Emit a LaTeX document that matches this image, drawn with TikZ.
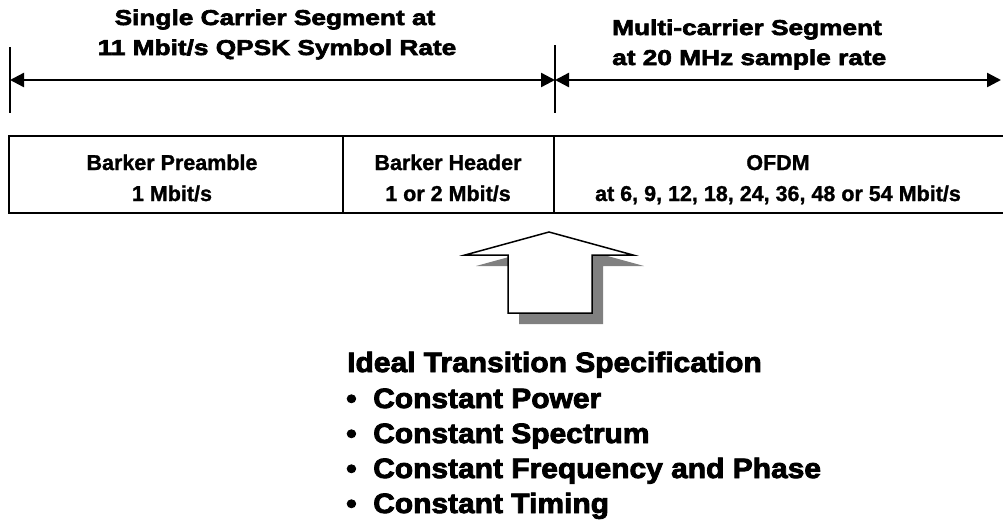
\documentclass[tikz,border=0pt]{standalone}
\usepackage{fontspec}
\setmainfont{Liberation Sans}
\newfontfamily\segfont[FakeStretch=1.22,FakeBold=3]{Liberation Sans}
\newfontfamily\cellfont[FakeBold=1.2]{Liberation Sans}
\newfontfamily\specfont[FakeStretch=1.07,FakeBold=3]{Liberation Sans}
\usetikzlibrary{arrows.meta}

\tikzset{
  seglabel/.style={font=\segfont\bfseries\fontsize{21.5}{25}\selectfont, inner sep=0pt},
  celllabel/.style={font=\cellfont\bfseries\fontsize{21.5}{26}\selectfont, inner sep=0pt, anchor=base},
  speclabel/.style={font=\specfont\bfseries\fontsize{28}{34}\selectfont, inner sep=0pt, anchor=base west},
  dimline/.style={line width=2.4pt, {Triangle[length=14pt,width=14pt]}-{Triangle[length=14pt,width=14pt]}},
  tickline/.style={line width=2pt},
  frame/.style={line width=1.6pt},
}

\begin{document}
\begin{tikzpicture}[x=1pt, y=-1pt, line join=miter]
    \useasboundingbox (0,0) rectangle (1003,523);

    % segment labels
    \node[seglabel, anchor=base] (sc1) at (275,25) {Single Carrier Segment at};
    \node[seglabel, anchor=base] (sc2) at (277,55) {11 Mbit/s QPSK Symbol Rate};
    \node[seglabel, anchor=base west] (mc1) at (612,35) {Multi-carrier Segment};
    \node[seglabel, anchor=base west] (mc2) at (612,65) {at 20 MHz sample rate};

    % ticks
    \draw[tickline] (10,47) -- (10,113);
    \draw[tickline] (555,45) -- (555,113);

    % dimension arrows
    \coordinate (tl) at (10,80);
    \coordinate (tm) at (555,80);
    \coordinate (tr) at (1001,80);
    \draw[dimline] (tl) -- (tm);
    \draw[dimline] (tm) -- (tr);

    % frame
    \draw[frame] (9,136) rectangle (1005,213);
    \foreach \x in {343, 554} {
        \draw[frame] (\x,136) -- (\x,213);
    }

    % cell texts
    \node[celllabel] (pre1) at (172,170) {Barker Preamble};
    \node[celllabel] (pre2) at (172,201) {1 Mbit/s};
    \node[celllabel] (hdr1) at (448,170) {Barker Header};
    \node[celllabel] (hdr2) at (448,201) {1 or 2 Mbit/s};
    \node[celllabel] (ofdm1) at (778,170) {OFDM};
    \node[celllabel] (ofdm2) at (778,201) {at 6, 9, 12, 18, 24, 36, 48 or 54 Mbit/s};

    % block arrow with shadow
    \fill[gray] (465+11,255+11) -- (549+11,232+11) -- (633+11,255+11) -- (592+11,255+11) -- (592+11,313+11) -- (508+11,313+11) -- (508+11,255+11) -- cycle;
    \filldraw[fill=white, draw=black, line width=1.5pt] (465,255) -- (549,232) -- (633,255) -- (592,255) -- (592,313) -- (508,313) -- (508,255) -- cycle;

    % specification
    \node[speclabel] (spec) at (347,372) {Ideal Transition Specification};
    \foreach \i/\y/\t in {1/408/Constant Power, 2/443/Constant Spectrum, 3/478/Constant Frequency and Phase, 4/513/Constant Timing} {
        \node[speclabel] (b\i) at (346,\y) {\textbullet};
        \node[speclabel] (it\i) at (373,\y) {\t};
    }
\end{tikzpicture}
\end{document}
